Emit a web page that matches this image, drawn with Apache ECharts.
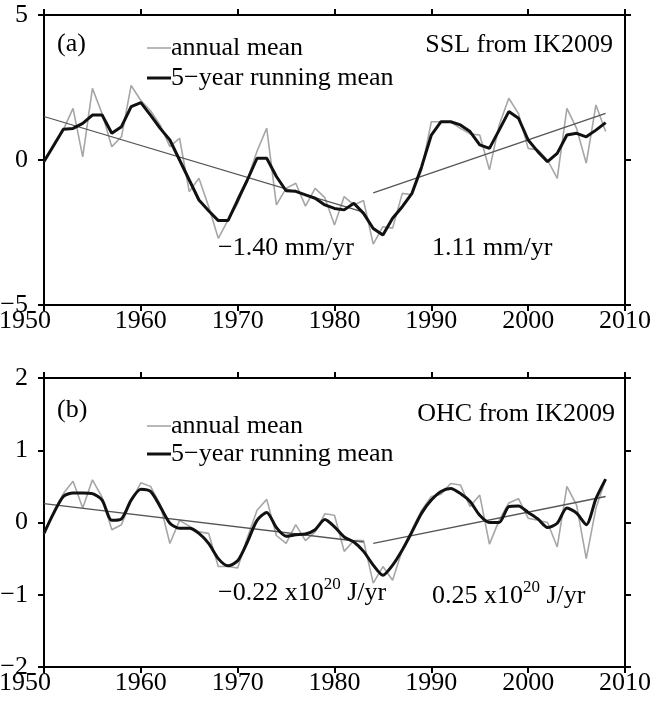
<!DOCTYPE html>
<html>
<head>
<meta charset="utf-8">
<title>SSL and OHC from IK2009</title>
<script src="https://cdn.jsdelivr.net/npm/echarts@6/dist/echarts.min.js"></script>
<style>
html,body{width:100%;height:100%;margin:0;padding:0;background:#fff;}
#main{width:653px;height:703px;}
</style>
</head>
<body>
<div id="main"></div>
<script>
// years of the record
var years = [1950,1951,1952,1953,1954,1955,1956,1957,1958,1959,
             1960,1961,1962,1963,1964,1965,1966,1967,1968,1969,
             1970,1971,1972,1973,1974,1975,1976,1977,1978,1979,
             1980,1981,1982,1983,1984,1985,1986,1987,1988,1989,
             1990,1991,1992,1993,1994,1995,1996,1997,1998,1999,
             2000,2001,2002,2003,2004,2005,2006,2007,2008];

// (a) steric sea level
var sslAnnual = [-0.05,0.55,1.05,1.78,0.11,2.47,1.6,0.46,0.8,2.57,
                 2.05,1.7,1.2,0.46,0.75,-1.09,-0.63,-1.6,-2.7,-2.07,
                 -1.5,-0.67,0.3,1.1,-1.55,-0.98,-0.8,-1.59,-0.98,-1.3,
                 -2.24,-1.26,-1.55,-1.4,-2.9,-2.3,-2.35,-1.15,-1.2,-0.34,
                 1.32,1.32,1.32,1.09,0.9,0.86,-0.34,1.2,2.13,1.6,
                 0.4,0.35,0.0,-0.63,1.78,1.09,-0.11,1.9,0.98];
var sslRunning = [-0.05,0.5,1.06,1.09,1.26,1.55,1.55,0.92,1.15,1.84,
                  1.98,1.55,1.09,0.69,0.0,-0.69,-1.38,-1.75,-2.09,-2.09,
                  -1.38,-0.69,0.06,0.06,-0.57,-1.06,-1.08,-1.2,-1.32,-1.55,
                  -1.67,-1.72,-1.49,-1.84,-2.36,-2.59,-2.01,-1.61,-1.15,-0.23,
                  0.86,1.32,1.32,1.21,0.98,0.52,0.4,1.03,1.67,1.44,
                  0.69,0.29,-0.06,0.23,0.86,0.92,0.8,1.03,1.29];
var sslTrend1 = [[1950,1.5],[1983,-1.8]];
var sslTrend2 = [[1984,-1.13],[2008,1.61]];

// (b) ocean heat content
var ohcAnnual = [-0.15,0.15,0.4,0.57,0.2,0.59,0.35,-0.1,-0.03,0.3,
                 0.55,0.5,0.25,-0.29,0.03,-0.05,-0.13,-0.15,-0.61,-0.61,
                 -0.63,-0.21,0.17,0.32,-0.18,-0.29,-0.03,-0.25,-0.13,0.12,
                 0.1,-0.4,-0.25,-0.25,-0.84,-0.61,-0.8,-0.38,-0.1,0.17,
                 0.36,0.39,0.54,0.52,0.22,0.38,-0.3,0.03,0.27,0.33,
                 0.06,0.03,0.0,-0.34,0.5,0.24,-0.5,0.2,0.6];
var ohcRunning = [-0.15,0.13,0.36,0.41,0.41,0.4,0.31,0.03,0.05,0.31,
                  0.46,0.43,0.22,-0.01,-0.08,-0.08,-0.15,-0.29,-0.5,-0.6,
                  -0.53,-0.27,0.03,0.14,-0.07,-0.19,-0.17,-0.16,-0.1,0.04,
                  -0.06,-0.2,-0.27,-0.4,-0.59,-0.73,-0.59,-0.38,-0.13,0.13,
                  0.31,0.43,0.47,0.4,0.29,0.1,0.0,0.0,0.22,0.23,
                  0.14,0.05,-0.07,-0.01,0.2,0.13,-0.03,0.33,0.6];
var ohcTrend1 = [[1950,0.26],[1983,-0.27]];
var ohcTrend2 = [[1984,-0.29],[2008,0.36]];

var xTicks = {min: 1950, max: 2010, interval: 10};
var sslTicks = {min: -5, max: 5, interval: 5};
var ohcTicks = {min: -2, max: 2, interval: 1};

var FONT = 'Liberation Serif';

function pairs(vals) {
    return years.map(function (y, i) { return [y, vals[i]]; });
}

var myChart = echarts.init(document.getElementById('main'));

var axisLine = {show: true, onZero: false, lineStyle: {color: '#000', width: 2}};
var axisTick = {show: true, inside: false, length: 6, lineStyle: {color: '#000', width: 2}};

function xAxes(grid) {
    return [{
        type: 'value', gridIndex: grid, position: 'bottom',
        min: xTicks.min, max: xTicks.max, interval: xTicks.interval,
        axisLine: axisLine, axisTick: axisTick, splitLine: {show: false},
        axisLabel: {fontFamily: FONT, fontSize: 26, color: '#000', margin: 3,
            // first year label sits left of its tick, as in the figure
            formatter: function (v) { return v === xTicks.min ? '{m|' + v + '}' : String(v); },
            rich: {m: {fontFamily: FONT, fontSize: 26, color: '#000', padding: [0, 38, 0, 0]}}}
    }, {
        type: 'value', gridIndex: grid, position: 'top',
        min: xTicks.min, max: xTicks.max, interval: xTicks.interval,
        axisLine: axisLine, axisTick: axisTick, splitLine: {show: false},
        axisLabel: {show: false}
    }];
}

function yAxes(grid, t) {
    return [{
        type: 'value', gridIndex: grid, position: 'left',
        min: t.min, max: t.max, interval: t.interval,
        axisLine: axisLine, axisTick: axisTick, splitLine: {show: false},
        axisLabel: {fontFamily: FONT, fontSize: 26, color: '#000', margin: 16,
            formatter: function (v) { return v < 0 ? '\u2212' + Math.abs(v) : String(v); }}
    }, {
        type: 'value', gridIndex: grid, position: 'right',
        min: t.min, max: t.max, interval: t.interval,
        axisLine: axisLine, axisTick: axisTick, splitLine: {show: false},
        axisLabel: {show: false}
    }];
}

function panelSeries(xi, yi, annual, running, t1, t2, smooth) {
    return [{
        name: 'annual mean', type: 'line', xAxisIndex: xi, yAxisIndex: yi,
        data: pairs(annual), symbol: 'none', silent: true,
        lineStyle: {color: '#a6a6a6', width: 1.6}, itemStyle: {color: '#a6a6a6'}
    }, {
        name: 'trend', type: 'line', xAxisIndex: xi, yAxisIndex: yi,
        data: t1, symbol: 'none', silent: true,
        lineStyle: {color: '#555', width: 1.3}
    }, {
        name: 'trend', type: 'line', xAxisIndex: xi, yAxisIndex: yi,
        data: t2, symbol: 'none', silent: true,
        lineStyle: {color: '#555', width: 1.3}
    }, {
        name: '5\u2212year running mean', type: 'line', xAxisIndex: xi, yAxisIndex: yi,
        data: pairs(running), symbol: 'none', silent: true, smooth: smooth,
        lineStyle: {color: '#111', width: 3}, itemStyle: {color: '#111'}
    }];
}

function legendAt(top, gap) {
    return {
        orient: 'vertical', left: 142, top: top,
        itemWidth: 24, itemHeight: 14, itemGap: gap,
        selectedMode: false, symbolKeepAspect: true,
        textStyle: {fontFamily: FONT, fontSize: 26, color: '#000', lineHeight: 26, padding: [0, 0, 0, -5]},
        data: [
            {name: 'annual mean', icon: 'path://M0,0H24V1.6H0Z'},
            {name: '5\u2212year running mean', icon: 'path://M0,0H24V3H0Z'}
        ]
    };
}

function label(txt, left, top, right) {
    var el = {
        type: 'text', top: top,
        style: {text: txt, fontFamily: FONT, fontSize: 26, fill: '#000'}
    };
    if (right != null) el.right = right; else el.left = left;
    return el;
}

function supLabel(a, b, left, top) {
    return {
        type: 'text', left: left, top: top,
        style: {
            text: '{n|' + a + '}{s|20}{n|' + b + '}',
            rich: {
                n: {fontFamily: FONT, fontSize: 26, fill: '#000', lineHeight: 34},
                s: {fontFamily: FONT, fontSize: 17, fill: '#000', lineHeight: 17, verticalAlign: 'top'}
            }
        }
    };
}

myChart.setOption({
    animation: false,
    backgroundColor: '#fff',
    grid: [
        {left: 44, top: 15, width: 581, height: 290, outerBoundsMode: 'none', containLabel: false},
        {left: 44, top: 378, width: 581, height: 289, outerBoundsMode: 'none', containLabel: false}
    ],
    xAxis: xAxes(0).concat(xAxes(1)),
    yAxis: yAxes(0, sslTicks).concat(yAxes(1, ohcTicks)),
    legend: [legendAt(30, 4), legendAt(408, 2)],
    series: panelSeries(0, 0, sslAnnual, sslRunning, sslTrend1, sslTrend2, false)
        .concat(panelSeries(2, 2, ohcAnnual, ohcRunning, ohcTrend1, ohcTrend2, 0.25)),
    graphic: [
        label('(a)', 57, 31),
        label('SSL from IK2009', null, 32, 40),
        label('\u22121.40 mm/yr', 218, 235),
        label('1.11 mm/yr', 432, 235),
        label('(b)', 57, 397),
        label('OHC from IK2009', null, 401, 38),
        supLabel('\u22120.22 x10', ' J/yr', 218, 576),
        supLabel('0.25 x10', ' J/yr', 432, 579)
    ]
});

window.addEventListener('resize', function () {
    myChart.resize();
});
</script>
</body>
</html>
